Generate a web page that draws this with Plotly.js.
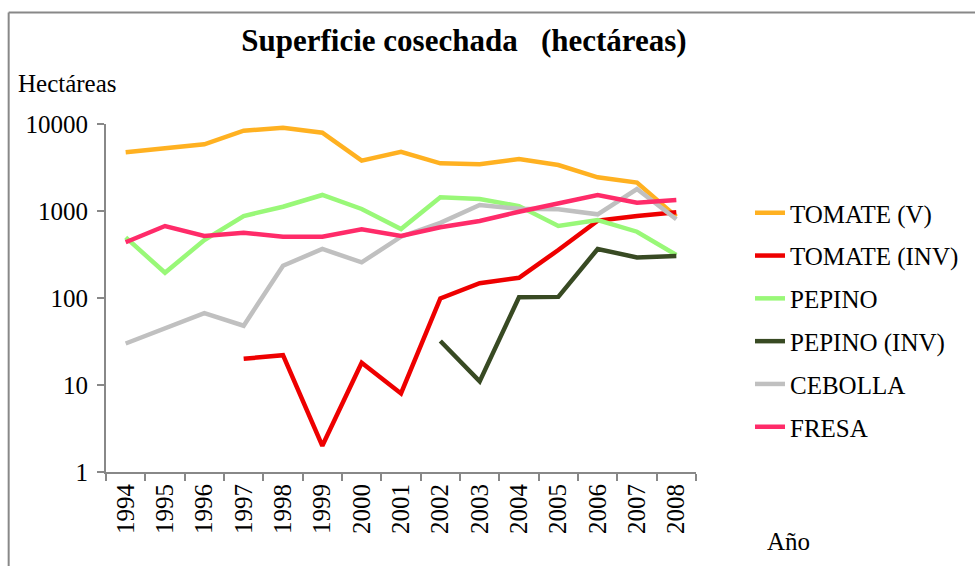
<!DOCTYPE html>
<html>
<head>
<meta charset="utf-8">
<script src="https://cdn.plot.ly/plotly-3.0.1.min.js"></script>
<style>html,body{margin:0;padding:0;background:#fff;}#chart{width:975px;height:566px;}</style>
</head>
<body>
<div id="chart"></div>
<script>
var years = ['1994','1995','1996','1997','1998','1999','2000','2001','2002','2003','2004','2005','2006','2007','2008'];
var tomateV = [4730, 5250, 5850, 8370, 9070, 7940, 3790, 4800, 3530, 3440, 3960, 3380, 2440, 2120, 860];
var tomateInv = [null, null, null, 20, 22, 2, 18, 8, 99, 148, 171, 356, 774, 876, 966];
var pepino = [498, 195, 464, 876, 1120, 1528, 1055, 621, 1436, 1373, 1140, 672, 788, 578, 312];
var pepinoInv = [null, null, null, null, null, null, null, null, 32, 11, 102, 103, 366, 293, 304];
var cebolla = [30, 45, 67, 48, 235, 366, 257, 507, 730, 1172, 1060, 1045, 916, 1790, 802];
var fresa = [437, 672, 516, 563, 507, 507, 616, 516, 649, 767, 982, 1224, 1528, 1246, 1337];
var seriesNames = ['TOMATE (V)', 'TOMATE (INV)', 'PEPINO', 'PEPINO (INV)', 'CEBOLLA', 'FRESA'];
var yTickVals = [1, 10, 100, 1000, 10000];
var yTickText = ['1', '10', '100', '1000', '10000'];

var colors = ['#FFB121', '#EE0000', '#99F878', '#384A23', '#C0C0C0', '#FF2B69'];
var values = [tomateV, tomateInv, pepino, pepinoInv, cebolla, fresa];

var traces = values.map(function (v, i) {
  return {
    type: 'scatter', mode: 'lines', x: years, y: v, name: seriesNames[i],
    legendgroup: 'g' + i,
    line: {color: colors[i], width: 4.5}, connectgaps: false
  };
});

var L = 106, R = 697, T = 124, B = 472;
var W = R - L, H = B - T;
function px(x) { return (x - L) / W; }
function py(y) { return (B - y) / H; }

var fam = 'Liberation Serif';
var font = {family: fam, color: '#000', size: 25};

var layout = {
  width: 975, height: 566,
  margin: {l: L, r: 975 - R, t: T, b: 566 - B, pad: 0},
  paper_bgcolor: '#fff', plot_bgcolor: '#fff',
  font: font,
  title: {text: '<b>Superficie cosechada   (hectáreas)</b>', x: 464 / 975, xref: 'container', xanchor: 'center',
          y: 1 - 40 / 566, yref: 'container', yanchor: 'middle',
          font: {family: fam, size: 31, color: '#000'}},
  xaxis: {
    type: 'category', tickson: 'boundaries', ticks: 'outside', ticklen: 7, tickwidth: 2, tickcolor: '#888',
    showline: true, linecolor: '#888', linewidth: 2, showgrid: false, zeroline: false,
    tickangle: -90, tickfont: font, range: [-0.5, 14.5], fixedrange: true
  },
  yaxis: {
    type: 'log', range: [0, 4], tickmode: 'array', tickvals: yTickVals, ticktext: yTickText,
    ticks: 'outside', ticklen: 7, tickwidth: 2, tickcolor: '#888', ticklabelstandoff: 4,
    showline: true, linecolor: '#888', linewidth: 2, showgrid: false, zeroline: false,
    tickfont: font, fixedrange: true
  },
  showlegend: true,
  legend: {x: px(750), xanchor: 'left', y: py(190), yanchor: 'top', font: font,
           bgcolor: 'rgba(0,0,0,0)', traceorder: 'grouped', tracegroupgap: 7.3, itemwidth: 30},
  annotations: [
    {text: 'Hectáreas', xref: 'paper', yref: 'paper', x: px(16), y: py(84), xanchor: 'left', yanchor: 'middle',
     showarrow: false, font: font},
    {text: 'Año', xref: 'paper', yref: 'paper', x: px(766), y: py(541), xanchor: 'left', yanchor: 'middle',
     showarrow: false, font: font}
  ],
  shapes: [
    {type: 'line', xref: 'paper', yref: 'paper', x0: px(8.5), x1: px(8.5), y0: py(12.5), y1: py(580),
     line: {color: '#888', width: 2}},
    {type: 'line', xref: 'paper', yref: 'paper', x0: px(8.5), x1: px(990), y0: py(12.5), y1: py(12.5),
     line: {color: '#888', width: 2}}
  ]
};

Plotly.newPlot('chart', traces, layout, {displayModeBar: false, staticPlot: true});
</script>
</body>
</html>
